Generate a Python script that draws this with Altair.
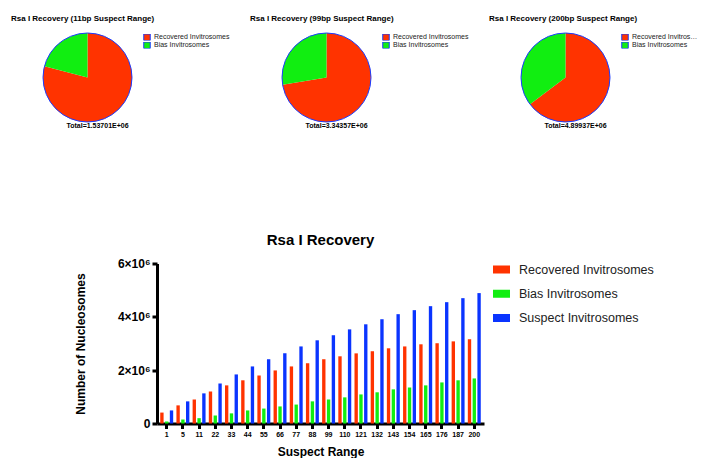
import altair as alt
import pandas as pd

FONT = "Liberation Sans"

# ---------------- data ----------------
ranges = ["1", "5", "11", "22", "33", "44", "55", "66", "77", "88",
          "99", "110", "121", "132", "143", "154", "165", "176", "187", "200"]
recovered = [0.41, 0.68, 0.90, 1.20, 1.43, 1.62, 1.80, 1.99, 2.14, 2.26,
             2.41, 2.52, 2.63, 2.71, 2.82, 2.89, 2.97, 3.01, 3.08, 3.16]
bias = [0.075, 0.15, 0.20, 0.30, 0.38, 0.49, 0.56, 0.64, 0.71, 0.83,
        0.90, 0.98, 1.09, 1.17, 1.28, 1.35, 1.43, 1.54, 1.62, 1.69]
suspect = [0.49, 0.83, 1.13, 1.50, 1.84, 2.14, 2.41, 2.63, 2.89, 3.12,
           3.31, 3.53, 3.72, 3.91, 4.10, 4.25, 4.40, 4.55, 4.70, 4.89]
series_names = ["Recovered Invitrosomes", "Bias Invitrosomes", "Suspect Invitrosomes"]
series_colors = ["#ff3300", "#11ee11", "#0a34ff"]

pie_titles = ["Rsa I Recovery (11bp Suspect Range)",
              "Rsa I Recovery (99bp Suspect Range)",
              "Rsa I Recovery (200bp Suspect Range)"]
pie_recovered = [1.215e6, 2.42e6, 3.17e6]
pie_bias = [0.322e6, 0.923e6, 1.73e6]
pie_total_labels = ["Total=1.53701E+06", "Total=3.34357E+06", "Total=4.89937E+06"]

BLUE_EDGE = "#1a3cff"

# ---------------- tables ----------------
rows = []
for i, r in enumerate(ranges):
    for k, (name, vals) in enumerate(zip(series_names, [recovered, bias, suspect])):
        rows.append({"range": r, "series": name, "value": vals[i] * 1e6, "k": k})
bar_df = pd.DataFrame(rows)


def make_pie(i):
    df = pd.DataFrame({"part": series_names[:2],
                       "value": [pie_recovered[i], pie_bias[i]],
                       "k": [0, 1]})
    slices = alt.Chart(df).mark_arc().encode(
        theta=alt.Theta("value:Q", stack=True),
        order=alt.Order("k:Q"),
        color=alt.Color(
            "part:N", sort=series_names[:2],
            scale=alt.Scale(domain=series_names[:2], range=series_colors[:2]),
            legend=alt.Legend(title=None, orient="none", legendX=100, legendY=1,
                              padding=0, symbolType="square", symbolSize=42,
                              symbolStrokeColor=BLUE_EDGE, symbolStrokeWidth=1,
                              labelFontSize=7, labelFont=FONT, labelColor="#222",
                              labelLimit=66 if i == 2 else 160,
                              clipHeight=6.5, rowPadding=0, labelOffset=3),
        ),
    )
    outline = alt.Chart(df).mark_arc(fillOpacity=0, stroke=BLUE_EDGE, strokeWidth=1).encode(
        theta=alt.Theta("sum(value):Q")
    )
    txt = alt.Chart(pd.DataFrame({"label": [pie_total_labels[i]]})).mark_text(
        font=FONT, fontSize=7, fontWeight="bold", dx=10, dy=48, color="black"
    ).encode(text="label:N")
    return alt.layer(slices, outline, txt).properties(
        width=89, height=89,
        title=alt.TitleParams(pie_titles[i], anchor="start", fontSize=8, font=FONT,
                              fontWeight="bold", dx=-30, offset=8.5, color="black"),
    ).resolve_scale(theta="shared")


top_row = alt.hconcat(*[make_pie(i) for i in range(3)], spacing=20).resolve_scale(
    color="independent", theta="independent")

bar = alt.Chart(bar_df).mark_bar().encode(
    x=alt.X("range:N", sort=ranges,
            scale=alt.Scale(paddingInner=0.2, paddingOuter=0.2),
            axis=alt.Axis(title="Suspect Range", labelAngle=0, labelFontSize=7,
                          labelFontWeight="bold", labelColor="black", labelPadding=2,
                          tickSize=5, tickWidth=3, tickColor="black",
                          domainWidth=3, domainColor="black",
                          titleFontSize=12, titleFontWeight="bold", titlePadding=9,
                          titleColor="black")),
    xOffset=alt.XOffset("series:N", sort=series_names,
                        scale=alt.Scale(paddingInner=0.3)),
    y=alt.Y("value:Q", scale=alt.Scale(domain=[0, 6e6], nice=False),
            axis=alt.Axis(values=[0, 2e6, 4e6, 6e6],
                          labelExpr="datum.value == 0 ? '0' : (datum.value/1e6) + '×10⁶'",
                          title="Number of Nucleosomes", titleFontSize=12,
                          titleFontWeight="bold", titleColor="black", titlePadding=30,
                          labelFontSize=12, labelFontWeight="bold", labelColor="black",
                          labelPadding=2, tickSize=5, tickWidth=3, tickColor="black",
                          domainWidth=3, domainColor="black", grid=False)),
    color=alt.Color("series:N", sort=series_names,
                    scale=alt.Scale(domain=series_names, range=series_colors),
                    legend=alt.Legend(title=None, orient="right", offset=9, padding=0,
                                      symbolType="M-1,-0.47H1V0.47H-1Z", symbolSize=289,
                                      symbolStrokeWidth=0, labelFontSize=12.5,
                                      labelFont=FONT, labelColor="#222", labelOffset=9,
                                      clipHeight=12, rowPadding=11.3)),
).properties(
    width=327, height=160,
    title=alt.TitleParams("Rsa I Recovery", fontSize=15, font=FONT, fontWeight="bold",
                          offset=10, color="black"),
)

# invisible spacer that sets the left margin of the bar chart
spacer = alt.Chart(pd.DataFrame({"s": [0]})).mark_point(opacity=0).properties(
    width=31, height=10)

bottom_row = alt.hconcat(spacer, bar, spacing=0)

chart = alt.vconcat(top_row, bottom_row, spacing=103.5).resolve_scale(
    color="independent", theta="independent"
).properties(
    padding={"left": 3, "top": 6, "right": 0, "bottom": 0}
).configure(font=FONT).configure_view(strokeWidth=0)

chart.save("out.html", embed_options={"renderer": "svg", "actions": False})
